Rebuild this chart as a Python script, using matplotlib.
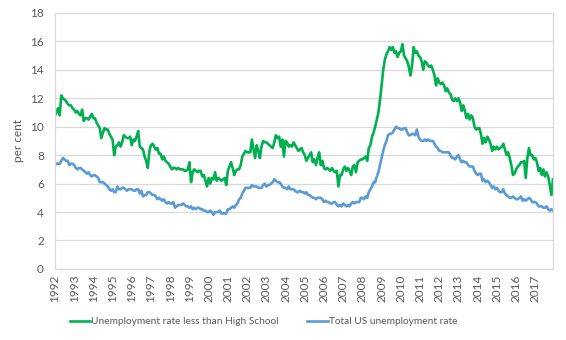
import numpy as np
import matplotlib
matplotlib.use("Agg")
import matplotlib.pyplot as plt

plt.rcParams['font.family'] = ['Lato', 'DejaVu Sans']

# monthly data, Jan 1992 - Dec 2017 (one row per year)
years = list(range(1992, 2018))

less_than_hs = [
    10.8, 11.0, 11.3, 10.8, 12.2, 12.0, 11.9, 11.8, 11.6, 11.5, 11.5, 11.3,  # 1992
    11.2, 11.0, 11.1, 10.9, 10.8, 11.2, 10.4, 10.6, 10.6, 10.5, 10.7, 10.9,  # 1993
    10.6, 10.6, 10.3, 10.1, 9.9, 9.2, 9.6, 9.9, 9.8, 9.8, 9.5, 9.3,          # 1994
    9.1, 8.0, 8.6, 8.7, 8.9, 8.6, 8.9, 9.4, 9.3, 9.2, 9.2, 9.3,              # 1995
    8.7, 9.1, 9.0, 9.3, 9.7, 8.6, 8.5, 8.4, 7.9, 7.6, 7.1, 8.3,              # 1996
    8.7, 8.8, 8.6, 8.4, 8.5, 8.1, 8.1, 7.7, 7.9, 7.6, 7.5, 7.4,              # 1997
    7.2, 7.0, 7.1, 7.1, 7.0, 7.1, 7.0, 7.0, 7.0, 6.9, 6.9, 7.0,              # 1998
    7.5, 6.1, 6.8, 7.0, 6.9, 6.8, 6.9, 6.9, 6.5, 6.6, 6.2, 5.8,              # 1999
    6.4, 6.0, 6.4, 6.3, 6.8, 6.2, 6.4, 6.3, 6.2, 6.3, 6.4, 5.9,              # 2000
    6.9, 7.2, 7.5, 7.1, 6.6, 6.9, 7.0, 7.0, 7.3, 7.9, 8.1, 8.3,              # 2001
    8.2, 8.2, 8.2, 9.1, 8.4, 7.8, 8.7, 8.3, 7.8, 8.6, 9.0, 8.9,              # 2002
    8.9, 8.8, 8.7, 8.6, 8.5, 8.9, 9.4, 9.2, 9.3, 8.6, 9.1, 7.9,              # 2003
    9.0, 8.9, 8.6, 8.7, 8.6, 8.9, 8.7, 8.5, 8.3, 8.4, 8.5, 8.2,              # 2004
    8.0, 7.6, 7.8, 8.0, 8.2, 7.5, 7.7, 7.3, 7.8, 8.2, 7.3, 7.6,              # 2005
    7.1, 7.0, 7.1, 7.0, 6.9, 7.1, 6.9, 6.8, 6.9, 5.8, 6.6, 6.6,              # 2006
    7.0, 7.2, 6.9, 7.1, 6.9, 6.6, 7.2, 7.3, 6.8, 7.5, 7.6, 7.7,              # 2007
    7.7, 7.8, 7.9, 7.6, 8.5, 8.7, 9.3, 9.6, 10.0, 10.5, 11.0, 11.9,          # 2008
    12.9, 14.0, 14.7, 15.1, 15.3, 15.6, 15.4, 15.6, 15.2, 15.3, 14.9, 15.2,  # 2009
    15.3, 15.8, 15.0, 14.8, 14.6, 14.2, 13.6, 14.3, 15.6, 15.2, 15.3, 15.0,  # 2010
    14.9, 14.6, 14.0, 14.6, 14.5, 14.3, 14.2, 14.3, 14.0, 13.6, 12.9, 13.4,  # 2011
    13.1, 13.0, 13.1, 12.9, 12.5, 12.7, 12.4, 12.3, 11.9, 11.8, 12.0, 11.8,  # 2012
    12.0, 11.7, 11.1, 11.5, 11.1, 10.6, 10.9, 10.5, 10.8, 10.6, 10.0, 9.8,   # 2013
    9.9, 9.9, 9.5, 8.8, 9.2, 8.9, 9.3, 9.1, 8.8, 8.3, 8.6, 8.4,              # 2014
    8.6, 8.4, 8.5, 8.6, 8.8, 8.4, 8.0, 8.2, 7.8, 7.3, 6.6, 6.7,              # 2015
    7.0, 7.2, 7.3, 7.5, 7.5, 7.6, 6.4, 7.8, 8.5, 8.0, 8.0, 7.7,              # 2016
    7.8, 7.5, 6.9, 7.1, 6.6, 7.0, 6.5, 6.8, 6.5, 5.9, 5.2, 6.3,              # 2017
]

total_us = [
    7.3, 7.4, 7.4, 7.4, 7.6, 7.8, 7.7, 7.6, 7.6, 7.3, 7.4, 7.4,  # 1992
    7.3, 7.1, 7.0, 7.1, 7.1, 7.0, 6.9, 6.8, 6.7, 6.8, 6.6, 6.5,  # 1993
    6.6, 6.6, 6.5, 6.4, 6.1, 6.1, 6.1, 6.0, 5.9, 5.8, 5.6, 5.5,  # 1994
    5.6, 5.4, 5.4, 5.8, 5.6, 5.6, 5.7, 5.7, 5.6, 5.5, 5.6, 5.6,  # 1995
    5.6, 5.5, 5.5, 5.6, 5.6, 5.3, 5.5, 5.1, 5.2, 5.2, 5.4, 5.4,  # 1996
    5.3, 5.2, 5.2, 5.1, 4.9, 5.0, 4.9, 4.8, 4.9, 4.7, 4.6, 4.7,  # 1997
    4.6, 4.6, 4.7, 4.3, 4.4, 4.5, 4.5, 4.5, 4.6, 4.5, 4.4, 4.4,  # 1998
    4.3, 4.4, 4.2, 4.3, 4.2, 4.3, 4.3, 4.2, 4.2, 4.1, 4.1, 4.0,  # 1999
    4.0, 4.1, 4.0, 3.8, 4.0, 4.0, 4.0, 4.1, 3.9, 3.9, 3.9, 3.9,  # 2000
    4.2, 4.2, 4.3, 4.4, 4.3, 4.5, 4.6, 4.9, 5.0, 5.3, 5.5, 5.7,  # 2001
    5.7, 5.7, 5.7, 5.9, 5.8, 5.8, 5.8, 5.7, 5.7, 5.7, 5.9, 6.0,  # 2002
    5.8, 5.9, 5.9, 6.0, 6.1, 6.3, 6.2, 6.1, 6.1, 6.0, 5.8, 5.7,  # 2003
    5.7, 5.6, 5.8, 5.6, 5.6, 5.6, 5.5, 5.4, 5.4, 5.5, 5.4, 5.4,  # 2004
    5.3, 5.4, 5.2, 5.2, 5.1, 5.0, 5.0, 4.9, 5.0, 5.0, 5.0, 4.9,  # 2005
    4.7, 4.8, 4.7, 4.7, 4.6, 4.6, 4.7, 4.7, 4.5, 4.4, 4.5, 4.4,  # 2006
    4.6, 4.5, 4.4, 4.5, 4.4, 4.6, 4.7, 4.6, 4.7, 4.7, 4.7, 5.0,  # 2007
    5.0, 4.9, 5.1, 5.0, 5.4, 5.6, 5.8, 6.1, 6.1, 6.5, 6.8, 7.3,  # 2008
    7.8, 8.3, 8.7, 9.0, 9.4, 9.5, 9.5, 9.6, 9.8, 10.0, 9.9, 9.9,  # 2009
    9.8, 9.8, 9.9, 9.9, 9.6, 9.4, 9.4, 9.5, 9.5, 9.4, 9.8, 9.3,  # 2010
    9.1, 9.0, 9.0, 9.1, 9.0, 9.1, 9.0, 9.0, 9.0, 8.8, 8.6, 8.5,  # 2011
    8.3, 8.3, 8.2, 8.2, 8.2, 8.2, 8.2, 8.0, 7.8, 7.8, 7.7, 7.9,  # 2012
    8.0, 7.7, 7.5, 7.6, 7.5, 7.5, 7.3, 7.2, 7.2, 7.2, 6.9, 6.7,  # 2013
    6.6, 6.7, 6.7, 6.2, 6.3, 6.1, 6.2, 6.1, 5.9, 5.7, 5.8, 5.6,  # 2014
    5.7, 5.5, 5.4, 5.4, 5.6, 5.3, 5.2, 5.1, 5.0, 5.0, 5.1, 5.0,  # 2015
    4.9, 4.9, 5.0, 5.1, 4.8, 4.9, 4.8, 4.9, 5.0, 4.9, 4.7, 4.7,  # 2016
    4.7, 4.6, 4.4, 4.4, 4.4, 4.3, 4.3, 4.4, 4.2, 4.1, 4.2, 4.1,  # 2017
]

GREEN = '#00B050'
BLUE = '#5B9BD5'
GRID = '#D9D9D9'
TXT = '#595959'

months = np.arange(len(total_us))

fig = plt.figure(figsize=(5.66, 3.40), dpi=100)
ax = fig.add_axes([0.097, 0.209, 0.880, 0.753])

ax.plot(months, less_than_hs, color=GREEN, lw=1.9,
        label='Unemployment rate less than High School')
ax.plot(months, total_us, color=BLUE, lw=1.9,
        label='Total US unemployment rate')

ax.set_xlim(0, len(total_us) - 1)
ax.set_ylim(0, 18)
ax.set_yticks(np.arange(0, 19, 2))
ax.set_xticks(np.arange(0, len(total_us), 12))
ax.set_xticklabels([str(y) for y in years], rotation=90)

ax.grid(axis='y', color=GRID, lw=0.9)
ax.set_axisbelow(True)
for sp in ax.spines.values():
    sp.set_color(GRID)
    sp.set_linewidth(0.9)
ax.tick_params(length=0, labelsize=8.5, colors=TXT, pad=4)
ax.tick_params(axis='y', pad=8)
ax.set_ylabel('per cent', fontsize=8.5, color=TXT, labelpad=4)

ax.legend(loc='center', bbox_to_anchor=(0.419, -0.207), ncol=2,
          frameon=False, fontsize=7.3, labelcolor=TXT, handlelength=2.0,
          handletextpad=0.1, columnspacing=2.8)

fig.savefig('out.png', dpi=100)
